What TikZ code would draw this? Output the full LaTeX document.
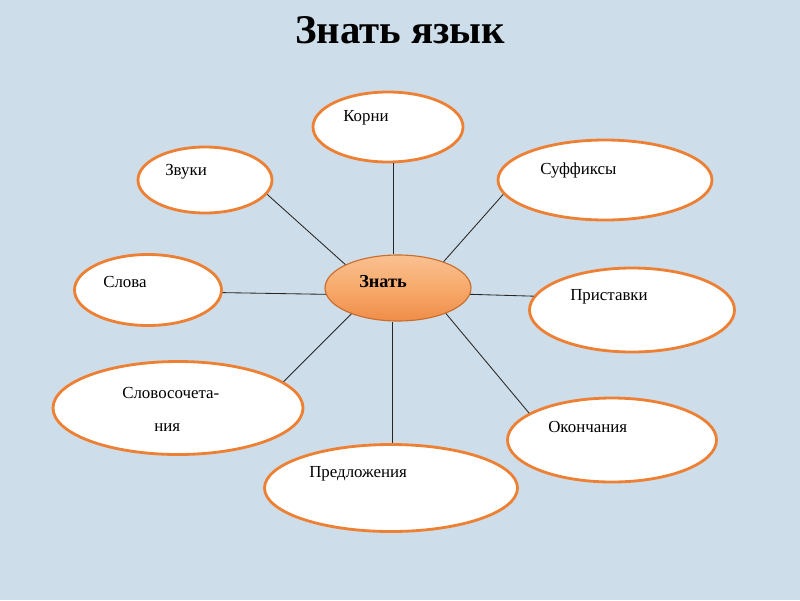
\documentclass[tikz,border=0pt]{standalone}
\usepackage{fontspec}
\setmainfont{Liberation Serif}
\usetikzlibrary{shapes.geometric}
\definecolor{bgblue}{RGB}{205,221,233}
\definecolor{rimorange}{RGB}{238,128,52}
\definecolor{midorange}{RGB}{247,170,108}
\definecolor{topforange}{RGB}{250,192,145}
\begin{document}
\begin{tikzpicture}[x=0.025cm, y=-0.025cm,
	bubble/.style={ellipse, draw=rimorange, line width=2pt, fill=white, inner sep=0pt},
	word/.style={anchor=west, font=\fontsize{12}{14}\selectfont, inner sep=0pt},
	link/.style={black!85, line width=0.6pt}]
		\fill[bgblue] (0,0) rectangle (800,600);
		\useasboundingbox (0,0) rectangle (800,600);
		\node[font=\fontsize{29}{34}\selectfont\bfseries] (title) at (400,30) {Знать язык};
		% the centre
		\node[ellipse, draw=rimorange!85!black, line width=0.8pt, top color=topforange, bottom color=rimorange!90, middle color=midorange,
			minimum width=146*0.025cm, minimum height=66*0.025cm] (znat) at (398,288) {};
		\node[font=\fontsize{13}{15}\selectfont\bfseries] (znatt) at (383,282) {Знать};
		% the bubbles
		\node[bubble, minimum width=150*0.025cm, minimum height=70*0.025cm] (korni) at (388,127) {};
		\node[bubble, minimum width=134*0.025cm, minimum height=66*0.025cm] (zvuki) at (205,180) {};
		\node[bubble, minimum width=214*0.025cm, minimum height=80*0.025cm] (suff) at (605,180) {};
		\node[bubble, minimum width=147*0.025cm, minimum height=71*0.025cm] (slova) at (148,290) {};
		\node[bubble, minimum width=205*0.025cm, minimum height=84*0.025cm] (prist) at (632,310) {};
		\node[bubble, minimum width=250*0.025cm, minimum height=93*0.025cm] (slsoch) at (178,408) {};
		\node[bubble, minimum width=209*0.025cm, minimum height=84*0.025cm] (okon) at (612,440) {};
		\node[bubble, minimum width=253*0.025cm, minimum height=87*0.025cm] (predl) at (391,488) {};
		% the words
		\node[word] (kornit) at (343,118) {Корни};
		\node[word] (zvukit) at (165,172) {Звуки};
		\node[word] (sufft) at (540,170) {Суффиксы};
		\node[word] (slovat) at (103,282) {Слова};
		\node[word] (pristt) at (570,297) {Приставки};
		\node[word] (slsocht) at (122,393) {Словосочета-};
		\node[word] (slsocht2) at (154,428) {ния};
		\node[word] (okont) at (548,427) {Окончания};
		\node[word] (predlt) at (309,474) {Предложения};
		% the links
		\draw[link] (znat.north) ++(-5,0) coordinate (kn) -- (kn |- korni.south);
		\draw[link] (znat.156) -- (zvuki.-13);
		\draw[link] (znat.30) -- (suff.188);
		\draw[link] (znat.185) -- (slova.-2);
		\draw[link] (znat.-5) -- (prist.172);
		\draw[link] (znat.209) -- (slsoch.14);
		\draw[link] (znat.-28) -- (okon.162);
		\draw[link] (znat.south) ++(-6,0) coordinate (pn) -- (pn |- predl.north);
\end{tikzpicture}
\end{document}
